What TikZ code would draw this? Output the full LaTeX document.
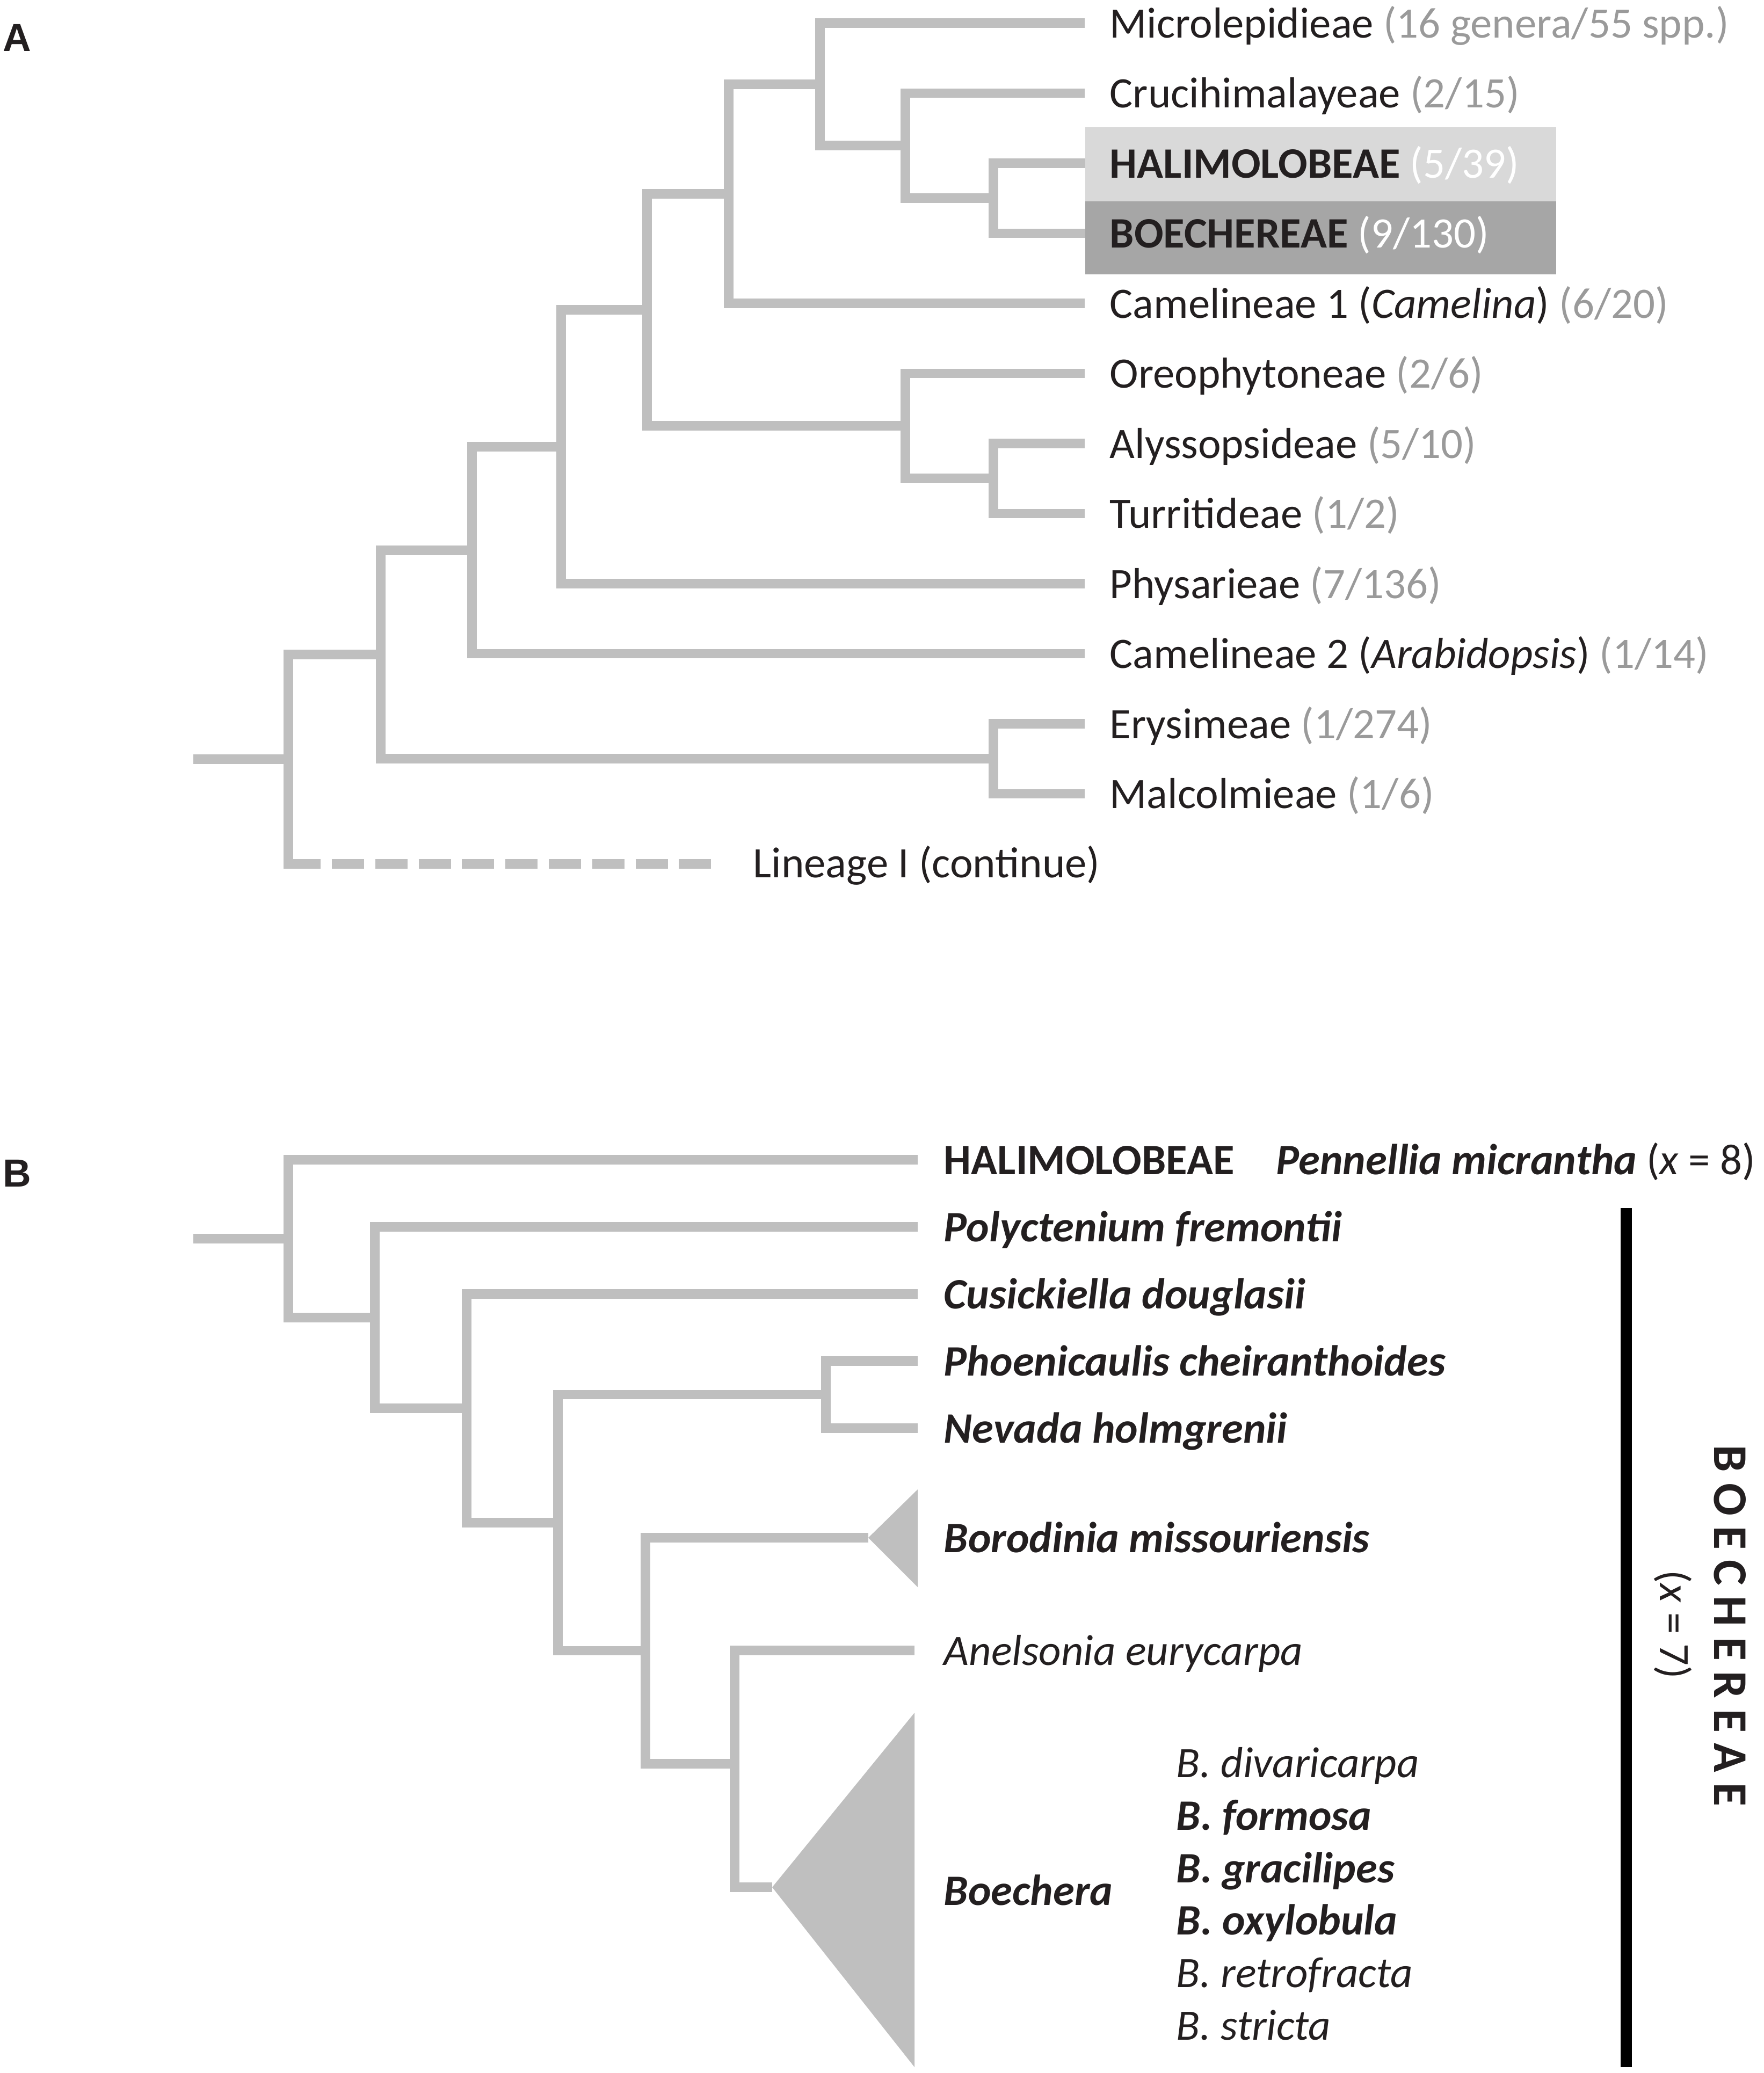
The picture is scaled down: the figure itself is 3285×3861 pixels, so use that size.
\documentclass[tikz,border=0pt]{standalone}
\usepackage{fontspec}
\setmainfont{Carlito}
\newfontfamily\labfont{Liberation Sans}
\definecolor{lg}{HTML}{BFBFBF}
\definecolor{numc}{HTML}{9A9A9A}
\definecolor{txt}{HTML}{231F20}
\definecolor{boxa}{HTML}{D9D9D9}
\definecolor{boxb}{HTML}{A6A6A6}
\newcommand{\nm}[1]{{\color{numc}#1}}
\newcommand{\bi}[1]{\textbf{\textit{#1}}}
\begin{document}
\begin{tikzpicture}[x=0.24pt,y=-0.24pt,
  br/.style={draw=lg,line width=4.3pt},
  lab/.style={inner sep=0pt,anchor=base west,text=txt,font=\fontsize{19.4pt}{23pt}\selectfont},
  panel/.style={inner sep=0pt,anchor=base west,text=txt,font=\labfont\bfseries\fontsize{17.5pt}{20pt}\selectfont},
  tri/.style={fill=lg,draw=none}]
\useasboundingbox (0,0) rectangle (3285,3861);

% ---------- panel labels
\node[panel] (pA) at (5,95) {A};
\node[panel] (pB) at (5,2210) {B};

% ---------- A: highlight boxes
\fill[boxa] (2021,237) rectangle (2898,375);
\fill[boxb] (2021,375) rectangle (2898,511);

% ---------- A: leaf ends
\coordinate (e0) at (2020,43);
\coordinate (e1) at (2020,173.5);
\coordinate (e2) at (2021,304);
\coordinate (e3) at (2021,434.5);
\coordinate (e4) at (2020,565);
\coordinate (e5) at (2020,695.5);
\coordinate (e6) at (2020,826);
\coordinate (e7) at (2020,956.5);
\coordinate (e8) at (2020,1087);
\coordinate (e9) at (2020,1217.5);
\coordinate (e10) at (2020,1348);
\coordinate (e11) at (2020,1478.5);
\coordinate (e12) at (1324,1609);
% ---------- A: internal nodes
\coordinate (n9) at (1850,369.25);
\coordinate (n8) at (1686,271.4);
\coordinate (n7) at (1527,157.2);
\coordinate (n6) at (1357,361.1);
\coordinate (n11) at (1850,891.25);
\coordinate (n10) at (1686,793.4);
\coordinate (n5) at (1205,577.2);
\coordinate (n4) at (1045,832.1);
\coordinate (n3) at (879,1024.8);
\coordinate (ne) at (1850,1413.25);
\coordinate (n2) at (709,1219);
\coordinate (n1) at (537,1414);
\coordinate (rA) at (360,1414);
\coordinate (c12) at (537,1609);

% ---------- A: branches
\draw[br] (e2) -| (n9) |- (e3);
\draw[br] (e1) -| (n8) |- (n9);
\draw[br] (e0) -| (n7) |- (n8);
\draw[br] (n7) -| (n6) |- (e4);
\draw[br] (e6) -| (n11) |- (e7);
\draw[br] (e5) -| (n10) |- (n11);
\draw[br] (n6) -| (n5) |- (n10);
\draw[br] (n5) -| (n4) |- (e8);
\draw[br] (n4) -| (n3) |- (e9);
\draw[br] (e10) -| (ne) |- (e11);
\draw[br] (n3) -| (n2) |- (ne);
\draw[br,line cap=rect] (n2) -| (n1) -- (c12);
\draw[br,dash pattern=on 14.4pt off 5pt] (c12) -- (e12);
\draw[br] (rA) -- (n1);

% ---------- A: labels
\node[lab] (t0) at (2066,70) {Microlepidieae \nm{(16 genera/55 spp.)}};
\node[lab] (t1) at (2066,200.5) {Crucihimalayeae \nm{(2/15)}};
\node[lab] (t2) at (2066,331) {\textbf{HALIMOLOBEAE} {\color{white}(5/39)}};
\node[lab] (t3) at (2066,461.5) {\textbf{BOECHEREAE} {\color{white}(9/130)}};
\node[lab] (t4) at (2066,592) {Camelineae 1 (\textit{Camelina}) \nm{(6/20)}};
\node[lab] (t5) at (2066,722.5) {Oreophytoneae \nm{(2/6)}};
\node[lab] (t6) at (2066,853) {Alyssopsideae \nm{(5/10)}};
\node[lab] (t7) at (2066,983.5) {Turritideae \nm{(1/2)}};
\node[lab] (t8) at (2066,1114) {Physarieae \nm{(7/136)}};
\node[lab] (t9) at (2066,1244.5) {Camelineae 2 (\textit{Arabidopsis}) \nm{(1/14)}};
\node[lab] (t10) at (2066,1375) {Erysimeae \nm{(1/274)}};
\node[lab] (t11) at (2066,1505.5) {Malcolmieae \nm{(1/6)}};
\node[lab] (t12) at (1402,1634) {Lineage I (continue)};

% ---------- B: leaf ends
\coordinate (f1) at (1709,2160);
\coordinate (f2) at (1709,2285);
\coordinate (f3) at (1709,2410);
\coordinate (f4) at (1709,2535);
\coordinate (f5) at (1709,2660);
\coordinate (f6) at (1617,2864);
\coordinate (f7) at (1703,3074);
\coordinate (f8) at (1438,3515);
% ---------- B: internal nodes
\coordinate (m5) at (1538,2597.5);
\coordinate (m7) at (1368,3285);
\coordinate (m6) at (1202,3074.5);
\coordinate (m4) at (1039,2836);
\coordinate (m3) at (869,2623);
\coordinate (m2) at (698,2454);
\coordinate (m1) at (537,2307);
\coordinate (rB) at (360,2307);

% ---------- B: triangles
\fill[lg] (f6) -- (1709,2774) -- (1709,2956) -- cycle;
\fill[lg] (f8) -- (1703,3190) -- (1703,3850) -- cycle;

% ---------- B: branches
\draw[br] (f4) -| (m5) |- (f5);
\draw[br] (f7) -| (m7) |- (f8);
\draw[br] (f6) -| (m6) |- (m7);
\draw[br] (m5) -| (m4) |- (m6);
\draw[br] (f3) -| (m3) |- (m4);
\draw[br] (f2) -| (m2) |- (m3);
\draw[br] (f1) -| (m1) |- (m2);
\draw[br] (rB) -- (m1);

% ---------- B: labels
\node[lab] (u1) at (1757,2187) {\textbf{HALIMOLOBEAE}};
\node[lab] (u1b) at (2376,2187) {\bi{Pennellia micrantha} (\textit{x} = 8)};
\node[lab] (u2) at (1757,2312) {\bi{Polyctenium fremontii}};
\node[lab] (u3) at (1757,2437) {\bi{Cusickiella douglasii}};
\node[lab] (u4) at (1757,2562) {\bi{Phoenicaulis cheiranthoides}};
\node[lab] (u5) at (1757,2687) {\bi{Nevada holmgrenii}};
\node[lab] (u6) at (1757,2891) {\bi{Borodinia missouriensis}};
\node[lab] (u7) at (1757,3101) {\textit{Anelsonia eurycarpa}};
\node[lab] (u8) at (1757,3548) {\bi{Boechera}};
\node[lab] (s1) at (2190,3310) {\textit{B. divaricarpa}};
\node[lab] (s2) at (2190,3408) {\bi{B. formosa}};
\node[lab] (s3) at (2190,3506) {\bi{B. gracilipes}};
\node[lab] (s4) at (2190,3603) {\bi{B. oxylobula}};
\node[lab] (s5) at (2190,3701) {\textit{B. retrofracta}};
\node[lab] (s6) at (2190,3799) {\textit{B. stricta}};

% ---------- B: Boechereae bar and label
\coordinate (bt) at (3028.5,2250);
\coordinate (bb) at (3028.5,3850);
\draw[line width=5pt,draw=black] (bt) -- (bb);
\node[rotate=-90,inner sep=0pt,text=txt,font=\bfseries\fontsize{21.6pt}{26pt}\selectfont\addfontfeatures{LetterSpace=22}] (tb) at (3222,3028) {BOECHEREAE};
\node[rotate=-90,inner sep=0pt,text=txt,font=\fontsize{19.4pt}{23pt}\selectfont] (tx) at (3115,3026) {(\textit{x} = 7)};
\end{tikzpicture}
\end{document}
